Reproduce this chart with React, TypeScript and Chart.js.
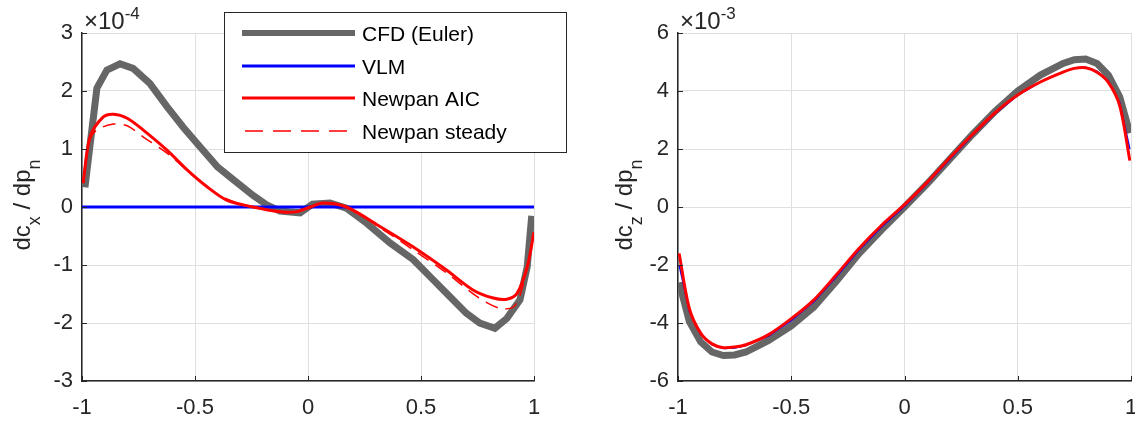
import React, { useEffect, useRef } from "react";
import { Chart, registerables } from "chart.js";

Chart.register(...registerables);

const FONT = "'Liberation Sans', Arial, Helvetica, sans-serif";
const TXT = "#262626";

const legendLabels = ["CFD (Euler)", "VLM", "Newpan AIC", "Newpan steady"];
const xTickStep = 0.5;

// ---- Left: dc_x / dp_n  (values in units of 1e-4)
const cxCfdX = [-0.987, -0.934, -0.89, -0.832, -0.774, -0.7, -0.624, -0.553, -0.478, -0.4, -0.33, -0.243, -0.18, -0.124, -0.035, 0.02, 0.097, 0.17, 0.26, 0.363, 0.466, 0.54, 0.614, 0.7, 0.76, 0.827, 0.88, 0.938, 0.97, 0.99];
const cxCfdY = [0.34, 2.05, 2.36, 2.47, 2.39, 2.13, 1.73, 1.38, 1.04, 0.69, 0.47, 0.2, 0.03, -0.07, -0.1, 0.05, 0.07, -0.02, -0.28, -0.62, -0.91, -1.2, -1.49, -1.83, -2.0, -2.09, -1.92, -1.6, -1.03, -0.15];
const cxVlmX = [-1, -0.5, 0, 0.5, 1];
const cxVlmY = [0, 0, 0, 0, 0];
const cxAicX = [-0.995, -0.965, -0.907, -0.86, -0.8, -0.73, -0.624, -0.535, -0.447, -0.36, -0.243, -0.124, -0.05, 0.01, 0.066, 0.17, 0.32, 0.466, 0.614, 0.73, 0.82, 0.88, 0.925, 0.97, 1.0];
const cxAicY = [0.41, 1.2, 1.55, 1.6, 1.53, 1.33, 0.98, 0.64, 0.35, 0.12, 0.0, -0.08, -0.08, 0.0, 0.07, 0.0, -0.34, -0.69, -1.09, -1.43, -1.57, -1.59, -1.49, -1.03, -0.43];
const cxStdX = [-0.995, -0.965, -0.934, -0.86, -0.8, -0.73, -0.624, -0.51, -0.4, -0.3, -0.2, -0.124, -0.05, 0.01, 0.066, 0.17, 0.32, 0.466, 0.614, 0.75, 0.85, 0.91, 0.94, 0.97, 1.0];
const cxStdY = [0.41, 1.15, 1.33, 1.43, 1.4, 1.21, 0.93, 0.55, 0.22, 0.05, -0.04, -0.08, -0.08, 0.0, 0.07, 0.0, -0.36, -0.74, -1.14, -1.55, -1.75, -1.72, -1.5, -1.05, -0.45];

// ---- Right: dc_z / dp_n  (values in units of 1e-3)
const czX = [-0.995, -0.95, -0.9, -0.85, -0.8, -0.75, -0.7, -0.6, -0.5, -0.4, -0.3, -0.2, -0.1, 0, 0.1, 0.2, 0.3, 0.4, 0.5, 0.6, 0.7, 0.75, 0.8, 0.85, 0.9, 0.95, 0.995];
const czCfdY = [-2.6, -3.95, -4.65, -5.0, -5.12, -5.1, -5.0, -4.6, -4.1, -3.45, -2.55, -1.6, -0.78, 0.0, 0.8, 1.65, 2.5, 3.3, 4.0, 4.55, 4.95, 5.08, 5.1, 4.95, 4.55, 3.8, 2.55];
const czVlmY = [-2.0, -3.6, -4.4, -4.75, -4.88, -4.86, -4.78, -4.45, -3.92, -3.27, -2.4, -1.48, -0.68, 0.02, 0.8, 1.65, 2.47, 3.22, 3.85, 4.31, 4.66, 4.79, 4.82, 4.68, 4.35, 3.6, 2.0];
const czAicY = [-1.6, -3.5, -4.35, -4.72, -4.85, -4.83, -4.75, -4.4, -3.85, -3.2, -2.33, -1.42, -0.62, 0.08, 0.85, 1.7, 2.5, 3.25, 3.86, 4.31, 4.65, 4.78, 4.8, 4.65, 4.3, 3.5, 1.6];

const zip = (xs: number[], ys: number[]) => xs.map((x, i) => ({ x, y: ys[i] }));

const styles = [
  { color: "#666666", width: 7, dash: [] as number[], tension: 0 },
  { color: "#0000ff", width: 3, dash: [] as number[], tension: 0 },
  { color: "#ff0000", width: 3, dash: [] as number[], tension: 0.3 },
  { color: "#ff0000", width: 1.5, dash: [13, 8], tension: 0.3 },
];

function makeDatasets(series: { x: number; y: number }[][], widths?: number[]) {
  return series.map((data, i) => ({
    label: legendLabels[i],
    data,
    borderColor: styles[i].color,
    backgroundColor: styles[i].color,
    borderWidth: widths ? widths[i] : styles[i].width,
    borderDash: styles[i].dash,
    tension: styles[i].tension,
    pointRadius: 0,
    fill: false,
    order: 10 - i,
  }));
}

const decor = {
  id: "decor",
  afterDraw(chart: any, _a: any, opts: any) {
    const ctx: CanvasRenderingContext2D = chart.ctx;
    const ca = chart.chartArea;
    const xs = chart.scales.x;
    const ys = chart.scales.y;
    ctx.save();
    // inward ticks
    ctx.strokeStyle = TXT;
    ctx.lineWidth = 1;
    ctx.beginPath();
    xs.ticks.forEach((t: any) => {
      const px = Math.round(xs.getPixelForValue(t.value)) + 0.5;
      ctx.moveTo(px, ca.bottom);
      ctx.lineTo(px, ca.bottom - 5);
    });
    ys.ticks.forEach((t: any) => {
      const py = Math.round(ys.getPixelForValue(t.value)) + 0.5;
      ctx.moveTo(ca.left, py);
      ctx.lineTo(ca.left + 5, py);
    });
    ctx.stroke();

    // exponent
    ctx.fillStyle = TXT;
    ctx.textAlign = "left";
    ctx.textBaseline = "alphabetic";
    ctx.font = `24px ${FONT}`;
    const ex0 = ca.left + 2;
    ctx.fillText("\u00d710", ex0, 29);
    const w10 = ctx.measureText("\u00d710").width;
    ctx.font = `17px ${FONT}`;
    ctx.fillText(opts.exponent, ex0 + w10, 19);

    // y label with subscripts
    ctx.save();
    ctx.translate(opts.labelX, (ca.top + ca.bottom) / 2 - 2);
    ctx.rotate(-Math.PI / 2);
    const parts = [
      { t: "dc", sub: false },
      { t: opts.sub, sub: true },
      { t: " / dp", sub: false },
      { t: "n", sub: true },
    ];
    const mainF = `24px ${FONT}`;
    const subF = `18px ${FONT}`;
    let total = 0;
    parts.forEach((p) => {
      ctx.font = p.sub ? subF : mainF;
      total += ctx.measureText(p.t).width;
    });
    let cx = -total / 2;
    parts.forEach((p) => {
      ctx.font = p.sub ? subF : mainF;
      ctx.fillText(p.t, cx, p.sub ? 10 : 0);
      cx += ctx.measureText(p.t).width;
    });
    ctx.restore();

    // legend
    if (opts.legend) {
      const L = opts.legend;
      ctx.fillStyle = "#ffffff";
      ctx.fillRect(L.x, L.y, L.w, L.h);
      ctx.strokeStyle = TXT;
      ctx.lineWidth = 1;
      ctx.strokeRect(L.x + 0.5, L.y + 0.5, L.w, L.h);
      const rows = [33, 66, 98, 131];
      chart.data.datasets.forEach((ds: any, i: number) => {
        const y = rows[i];
        ctx.save();
        ctx.strokeStyle = ds.borderColor;
        ctx.lineWidth = i === 0 ? 6 : i === 3 ? 1.5 : 3;
        ctx.setLineDash(i === 3 ? [18, 10] : []);
        ctx.beginPath();
        ctx.moveTo(i === 3 ? 245 : 242, y);
        ctx.lineTo(355, y);
        ctx.stroke();
        ctx.restore();
        ctx.fillStyle = "#000000";
        ctx.font = `21px ${FONT}`;
        ctx.textBaseline = "middle";
        ctx.textAlign = "left";
        ctx.fillText(ds.label, 362, y + 2);
      });
    }
    ctx.restore();
  },
};

function makeOptions(o: {
  ymin: number; ymax: number; ystep: number; yWidth: number; padRight: number;
  exponent: string; labelX: number; sub: string; legend?: any;
}) {
  return {
    responsive: false,
    animation: false as const,
    devicePixelRatio: 1,
    layout: { padding: { left: 0, top: 33, right: o.padRight, bottom: 0 } },
    plugins: {
      legend: { display: false },
      tooltip: { enabled: false },
      title: { display: false },
      decor: { exponent: o.exponent, labelX: o.labelX, sub: o.sub, legend: o.legend },
    },
    scales: {
      x: {
        type: "linear" as const,
        min: -1,
        max: 1,
        afterFit: (s: any) => { s.height = 42; },
        ticks: {
          stepSize: xTickStep,
          color: TXT,
          font: { family: FONT, size: 22 },
          padding: 14,
          maxRotation: 0,
          callback: (v: any) => String(v),
        },
        grid: { color: "#dfdfdf", lineWidth: 1, drawTicks: false },
        border: { display: true, color: TXT, width: 1.5 },
      },
      y: {
        type: "linear" as const,
        min: o.ymin,
        max: o.ymax,
        afterFit: (s: any) => { s.width = o.yWidth; },
        ticks: {
          stepSize: o.ystep,
          color: TXT,
          font: { family: FONT, size: 22 },
          padding: 9,
          callback: (v: any) => String(v),
        },
        grid: { color: "#dfdfdf", lineWidth: 1, drawTicks: false },
        border: { display: true, color: TXT, width: 1.5 },
      },
    },
  };
}

export default function App() {
  const leftRef = useRef<HTMLCanvasElement>(null);
  const rightRef = useRef<HTMLCanvasElement>(null);

  useEffect(() => {
    const left = new Chart(leftRef.current as HTMLCanvasElement, {
      type: "line",
      data: {
        datasets: makeDatasets([
          zip(cxCfdX, cxCfdY),
          zip(cxVlmX, cxVlmY),
          zip(cxAicX, cxAicY),
          zip(cxStdX, cxStdY),
        ]) as any,
      },
      options: makeOptions({
        ymin: -3, ymax: 3, ystep: 1, yWidth: 82, padRight: 600 - 534,
        exponent: "-4", labelX: 30, sub: "x",
        legend: { x: 224, y: 12, w: 342, h: 140 },
      }) as any,
      plugins: [decor as any],
    });
    const right = new Chart(rightRef.current as HTMLCanvasElement, {
      type: "line",
      data: {
        datasets: makeDatasets(
          [zip(czX, czCfdY), zip(czX, czVlmY), zip(czX, czAicY)],
          [7, 1.5, 3]
        ) as any,
      },
      options: makeOptions({
        ymin: -6, ymax: 6, ystep: 2, yWidth: 78, padRight: 560 - 531,
        exponent: "-3", labelX: 32, sub: "z",
      }) as any,
      plugins: [decor as any],
    });
    return () => {
      left.destroy();
      right.destroy();
    };
  }, []);

  return (
    <div
      style={{
        position: "fixed",
        left: 0,
        top: 0,
        width: 1135,
        height: 423,
        overflow: "hidden",
        background: "#ffffff",
      }}
    >
      <canvas ref={leftRef} width={600} height={423} style={{ position: "absolute", left: 0, top: 0 }} />
      <canvas ref={rightRef} width={560} height={423} style={{ position: "absolute", left: 600, top: 0 }} />
    </div>
  );
}
